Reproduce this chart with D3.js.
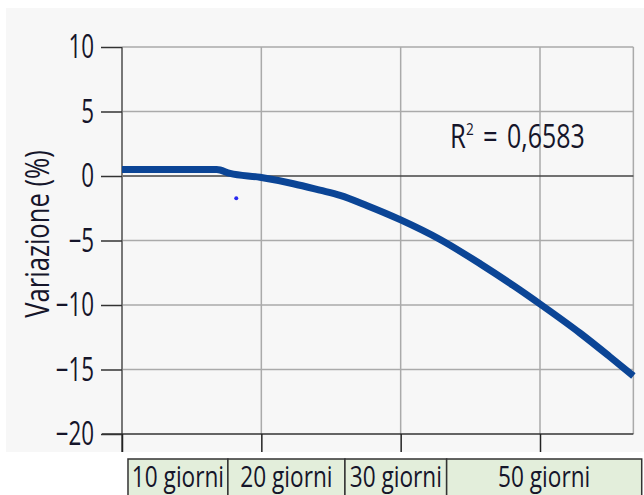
<!DOCTYPE html>
<html>
<head>
<meta charset="utf-8">
<script src="https://cdn.jsdelivr.net/npm/d3@7"></script>
<style>
  body { margin: 0; background: #fff; }
  text { font-family: "Open Sans", "Noto Sans", sans-serif; fill: #15152a; font-weight: 500; }
</style>
</head>
<body>
<script>
// trend line, x in "period" units (0..3 = tick marks), y in %
const trendX = [0, 0.68, 0.775, 0.99, 1.23, 1.42, 1.565, 1.76, 2.0, 2.28, 2.57, 2.81, 3.01, 3.29, 3.5, 3.67];
const trendY = [0.5, 0.5, 0.2, -0.1, -0.6, -1.1, -1.5, -2.3, -3.4, -4.9, -6.8, -8.5, -10.0, -12.2, -14.0, -15.5];
const outlier = [0.82, -1.73];
const yTicks = [10, 5, 0, -5, -10, -15, -20];
const xTicks = [0, 1, 2, 3];
const binLabels = ["10 giorni", "20 giorni", "30 giorni", "50 giorni"];
const binEdges = [0.043, 0.76, 1.6, 2.33, 3.73];
const r2Label = "0,6583";

const W = 644, H = 495;
const SX = 0.7; // condensed look
const svg = d3.select("body").append("svg").attr("width", W).attr("height", H);

const x = d3.scaleLinear().domain([0, 3]).range([122, 540]);
const y = d3.scaleLinear().domain([10, -20]).range([47, 434]);
const xMax = 3.67;

// squeezed text at a point
function label(g, px, py, txt, size, anchor, sx) {
  return g.append("text")
    .attr("transform", `translate(${px},${py}) scale(${sx || SX},1)`)
    .attr("text-anchor", anchor || "start")
    .attr("font-size", size).text(txt);
}

// grey panel
svg.append("rect").attr("x", 6).attr("y", 8).attr("width", W - 6).attr("height", 444).attr("fill", "#f7f7f7");

// horizontal grid
svg.append("g").selectAll("line").data(yTicks.filter(d => d !== 0 && d !== -20)).join("line")
  .attr("x1", x(0)).attr("x2", x(xMax))
  .attr("y1", d => y(d)).attr("y2", d => y(d))
  .attr("stroke", "#aaa").attr("stroke-width", 1.5);

// vertical grid
svg.append("g").selectAll("line").data([1, 2, 3, xMax]).join("line")
  .attr("x1", d => x(d)).attr("x2", d => x(d))
  .attr("y1", y(10)).attr("y2", y(-20))
  .attr("stroke", "#aaa").attr("stroke-width", 1.5);

// zero line
svg.append("line").attr("x1", x(0)).attr("x2", x(xMax)).attr("y1", y(0)).attr("y2", y(0))
  .attr("stroke", "#444").attr("stroke-width", 1.5);

// y axis
const yAxis = svg.append("g").attr("transform", `translate(${x(0)},0)`)
  .call(d3.axisLeft(y).tickValues(yTicks).tickSize(21).tickPadding(7));
yAxis.select(".domain").attr("stroke", "#777").attr("stroke-width", 2).attr("d", `M0,${y(10)}V452`);
yAxis.selectAll(".tick line").attr("stroke", "#333").attr("stroke-width", 1.5);
yAxis.selectAll(".tick text")
  .attr("font-size", 32).attr("font-family", null).attr("fill", "#15152a")
  .attr("x", -28 / SX).attr("dy", "0.34em").attr("transform", `scale(${SX},1)`);

// x axis (ticks downward)
const xAxis = svg.append("g").attr("transform", `translate(0,${y(-20)})`)
  .call(d3.axisBottom(x).tickValues(xTicks).tickSize(18).tickFormat(""));
xAxis.select(".domain").attr("stroke", "#333").attr("stroke-width", 1.5).attr("d", `M102,0H${x(xMax)}`);
xAxis.selectAll(".tick line").attr("stroke", "#222").attr("stroke-width", 1.5);

// y label
svg.append("text").attr("transform", `translate(49,234) rotate(-90) scale(0.8,1)`)
  .attr("text-anchor", "middle").attr("font-size", 32).text("Variazione (%)");

// trend line
const pts = trendX.map((d, i) => [d, trendY[i]]);
svg.append("path").datum(pts)
  .attr("d", d3.line().x(d => x(d[0])).y(d => y(d[1])).curve(d3.curveMonotoneX))
  .attr("fill", "none").attr("stroke", "#0b4596").attr("stroke-width", 7);

// outlier
svg.append("circle").attr("cx", x(outlier[0])).attr("cy", y(outlier[1])).attr("r", 2).attr("fill", "#2a2af0");

// R squared
label(svg, 450, 148, "R", 32, "start", 0.8);
label(svg, 466, 135, "2", 17, "start", 0.8);
label(svg, 483, 148, "=", 32, "start", 0.8);
label(svg, 507, 148, r2Label, 32, "start", 0.78);

// category boxes
const bins = svg.append("g");
bins.selectAll("rect").data(binLabels).join("rect")
  .attr("x", (d, i) => x(binEdges[i])).attr("y", 459)
  .attr("width", (d, i) => x(binEdges[i + 1]) - x(binEdges[i])).attr("height", 45)
  .attr("fill", "#e3eedb").attr("stroke", "#333").attr("stroke-width", 1.5);
binLabels.forEach((d, i) =>
  label(bins, (x(binEdges[i]) + x(binEdges[i + 1])) / 2, 487, d, 29, "middle", 0.78));
</script>
</body>
</html>
